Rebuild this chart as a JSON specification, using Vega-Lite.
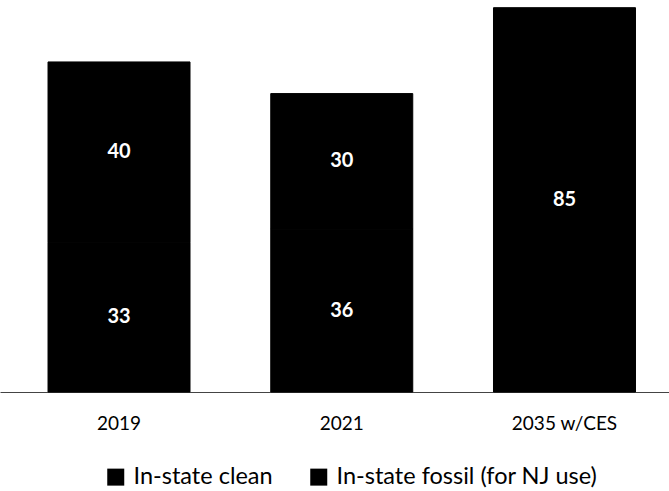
{
  "$schema": "https://vega.github.io/schema/vega-lite/v6.json",
  "width": 669,
  "height": 392,
  "autosize": "none",
  "padding": {"left": 0, "top": 0, "right": 0, "bottom": 99},
  "background": "white",
  "config": {"view": {"stroke": null}, "font": "Lato"},
  "data": {
    "values": [
      {"year": "2019", "series": "In-state clean", "value": 33},
      {"year": "2019", "series": "In-state fossil (for NJ use)", "value": 40},
      {"year": "2021", "series": "In-state clean", "value": 36},
      {"year": "2021", "series": "In-state fossil (for NJ use)", "value": 30},
      {"year": "2035 w/CES", "series": "In-state clean", "value": 85}
    ]
  },
  "encoding": {
    "x": {
      "field": "year",
      "type": "nominal",
      "sort": null,
      "scale": {"paddingInner": 0.3625, "paddingOuter": 0.183, "align": 0.589},
      "axis": {"title": null, "labelAngle": 0, "ticks": false, "domainColor": "#444444", "domainWidth": 1, "labelFontSize": 19, "labelColor": "#000000", "labelPadding": 22, "labelFont": "Lato"}
    },
    "y": {"field": "value", "type": "quantitative", "stack": "zero", "scale": {"domain": [0, 86.7]}, "axis": null},
    "order": {"field": "series", "sort": "ascending"}
  },
  "layer": [
    {
      "mark": {"type": "bar", "stroke": "#000000", "strokeWidth": 1},
      "encoding": {
        "color": {
          "field": "series",
          "type": "nominal",
          "scale": {"domain": ["In-state clean", "In-state fossil (for NJ use)"], "range": ["#000000", "#000000"]},
          "legend": {
            "title": null,
            "orient": "none",
            "direction": "horizontal",
            "legendX": 104,
            "legendY": 465,
            "symbolType": "square",
            "symbolSize": 289,
            "symbolStrokeWidth": 0,
            "labelFontSize": 23.5,
            "labelColor": "#000000",
            "labelFont": "Lato",
            "labelOffset": 6,
            "labelLimit": 400,
            "columnPadding": 34
          }
        }
      }
    },
    {
      "mark": {"type": "text", "color": "white", "fontWeight": "bold", "fontSize": 20},
      "encoding": {
        "y": {"field": "value", "type": "quantitative", "stack": "zero", "bandPosition": 0.5},
        "detail": {"field": "series"},
        "text": {"field": "value", "type": "quantitative"}
      }
    }
  ]
}
